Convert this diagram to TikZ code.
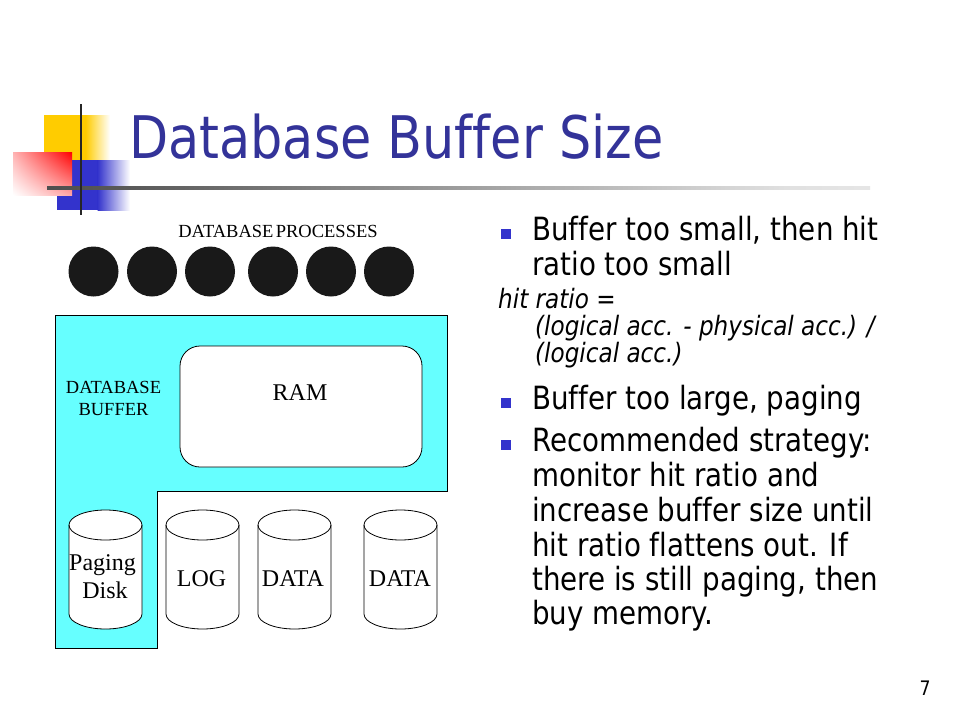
\documentclass[tikz,border=0pt]{standalone}
\usepackage{fontspec}
\usetikzlibrary{shadings}
\setmainfont{Liberation Serif}
\newfontfamily\tah[FakeStretch=0.866, Ligatures=NoCommon]{DejaVu Sans}
\definecolor{titleblue}{HTML}{333399}
\definecolor{bulletblue}{HTML}{3333CC}
\definecolor{sqyellow}{HTML}{FFCC00}
\definecolor{sqblue}{HTML}{3333CC}
\definecolor{buffcyan}{HTML}{66FFFF}
\pgfdeclarehorizontalshading{hlineshade}{100bp}{color(0bp)=(black!90); color(30bp)=(black!65); color(70bp)=(black!12); color(100bp)=(white)}
\tikzset{
  body/.style={anchor=base west, inner sep=0, font=\tah\fontsize{32}{32}\selectfont},
  formula/.style={anchor=base west, inner sep=0, font=\tah\itshape\fontsize{26.7}{27}\selectfont},
  bulletsq/.style={fill=bulletblue, draw=none},
  proc/.style={circle, fill=black!90, minimum size=50, inner sep=0},
  serifsmall/.style={inner sep=0, font=\fontsize{18.5}{22}\selectfont},
  seriflabel/.style={inner sep=0, font=\fontsize{24}{28}\selectfont},
  cylline/.style={draw=black, line width=0.8pt, fill=white}
}
\newcommand{\mycyl}[1]{%
  \fill[white] (#1-36.5,525) -- (#1-36.5,614) arc[start angle=180, end angle=0, x radius=36.5, y radius=15] -- (#1+36.5,525) arc[start angle=0, end angle=-180, x radius=36.5, y radius=15] -- cycle;
  \draw[line width=0.8pt] (#1-36.5,525) -- (#1-36.5,614) arc[start angle=180, end angle=0, x radius=36.5, y radius=15] -- (#1+36.5,525);
  \draw[line width=0.8pt] (#1,525) ellipse[x radius=36.5, y radius=15];
}
\begin{document}
\begin{tikzpicture}[x=1pt, y=-1pt]
\useasboundingbox (0,0) rectangle (960,720);
\fill[white] (0,0) rectangle (960,720);

% title decoration
\fill[sqyellow] (44,115) rectangle (86,160);
\shade[left color=sqyellow, right color=white] (85.5,115) rectangle (110,160);
\fill[sqblue] (57,160) rectangle (98,210);
\shade[left color=sqblue, right color=white] (97.5,160) rectangle (130,210);
\shade[upper left=red!30, upper right=red, lower left=white, lower right=red!35] (13,152) rectangle (72,195);
\shade[shading=hlineshade] (47,186.7) rectangle (870,189.3);
\fill[black!85] (79.7,104) rectangle (82.3,215);

\node[anchor=base west, inner sep=0, text=titleblue, font=\tah\fontsize{58.7}{60}\selectfont] (title) at (129,158) {Database Buffer Size};

% left diagram
\node[serifsmall, anchor=base] (proclabel) at (278,237) {DATABASE\hspace{-0.12em} PROCESSES};
\node[proc] (p1) at (93.5,271.5) {};
\node[proc] (p2) at (152,271.5) {};
\node[proc] (p3) at (210,271.5) {};
\node[proc] (p4) at (273,271.5) {};
\node[proc] (p5) at (331,271.5) {};
\node[proc] (p6) at (389,271.5) {};

\draw[line width=0.8pt, fill=buffcyan] (55,315) -- (447,315) -- (447,491) -- (157,491) -- (157,648) -- (55,648) -- cycle;
\node[serifsmall, anchor=base, align=center] (buflabel1) at (113.5,393) {DATABASE};
\node[serifsmall, anchor=base] (buflabel2) at (113.5,415) {BUFFER};

\node[draw, line width=0.8pt, fill=white, rounded corners=20, minimum width=242, minimum height=121, inner sep=0] (ram) at (301,406.5) {};
\node[seriflabel, anchor=base] (ramlabel) at (300,400) {RAM};

\mycyl{105.5}
\mycyl{202.5}
\mycyl{294.5}
\mycyl{400.5}
\node[seriflabel, anchor=base] (paging1) at (102.5,570) {Paging};
\node[seriflabel, anchor=base] (paging2) at (105,598) {Disk};
\node[seriflabel, anchor=base] (log) at (201.5,586) {LOG};
\node[seriflabel, anchor=base] (data1) at (293,586) {DATA};
\node[seriflabel, anchor=base] (data2) at (400,586) {DATA};

% right text
\fill[bulletsq] (501,229) rectangle (511,239);
\node[body] (b1a) at (532,240) {Buffer too small, then hit};
\node[body] (b1b) at (532,275) {ratio too small};
\node[formula] (h1) at (498,308) {hit ratio =};
\node[formula] (h2) at (535,335) {(logical acc. - physical acc.) /};
\node[formula] (h3) at (535,362) {(logical acc.)};
\fill[bulletsq] (501,398) rectangle (511,408);
\node[body] (b2) at (532,409) {Buffer too large, paging};
\fill[bulletsq] (501,440) rectangle (511,450);
\node[body] (b3a) at (532,451) {Recommended strategy:};
\node[body] (b3b) at (532,486) {monitor hit ratio and};
\node[body] (b3c) at (532,521) {increase buffer size until};
\node[body] (b3d) at (532,556) {hit ratio flattens out. If};
\node[body] (b3e) at (532,590) {there is still paging, then};
\node[body] (b3f) at (532,624) {buy memory.};

\node[anchor=base, inner sep=0, font=\tah\fontsize{20}{20}\selectfont] (pagenum) at (925,695) {7};
\end{tikzpicture}
\end{document}
